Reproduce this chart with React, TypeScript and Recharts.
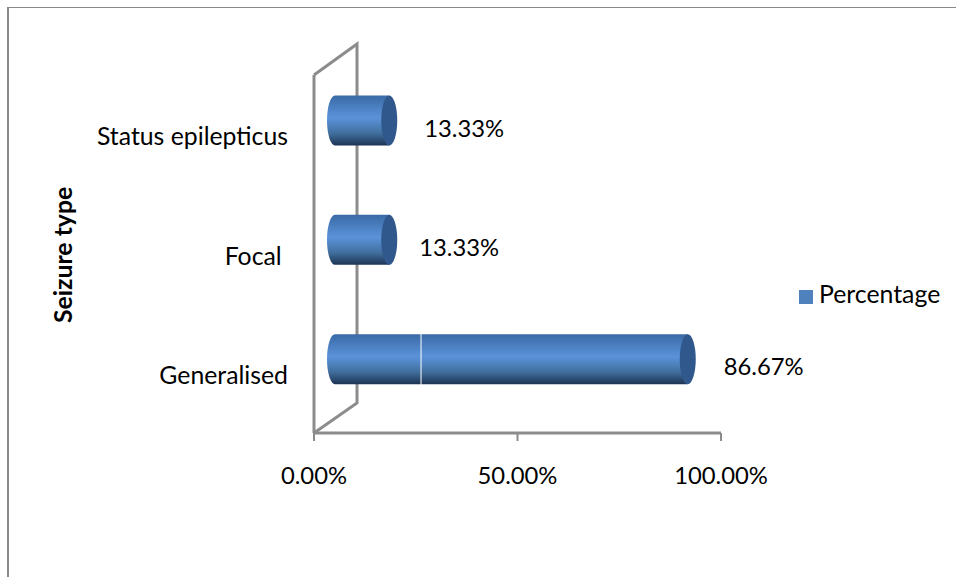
import React from "react";
import { BarChart, Bar, XAxis, YAxis, Legend, LabelList, ReferenceLine, usePlotArea } from "recharts";

// Seizure type distribution
const categories = ["Status epilepticus", "Focal ", "Generalised"];
const percentages = [13.33, 13.33, 86.67];
const axisTicks = [0, 50, 100];
const labelGaps = [56, 51, 57];
const seamAt = 26.3;

const rows = categories.map((name, i) => ({ name, Percentage: percentages[i] }));

const FONT = "Lato, 'Open Sans', sans-serif";
const TEXT_SIZE = 24.8;
const NUMBER_SIZE = 23.8;
const AXIS_GREY = "#8c8c8c";
const AXIS_WIDTH = 3;
// How far the 3D bars sit behind the front wall
const BAR_SHIFT_X = 21;
const BAR_SHIFT_Y = -14.5;
const WALL_DX = 43;
const WALL_DY = -30;
const CAP_RX = 8;
const LEGEND_WIDTH = 160;

const fmt = (v: number) => `${v.toFixed(2)}%`;

function Cylinder(props: any) {
  const { x, y, width, height } = props;
  const left = x + BAR_SHIFT_X;
  const right = left + width;
  const top = y + BAR_SHIFT_Y;
  const bottom = top + height;
  const ry = height / 2;
  return (
    <g>
      <path
        d={`M${left},${top} L${right},${top} L${right},${bottom} L${left},${bottom} A${CAP_RX},${ry} 0 0 1 ${left},${top} Z`}
        fill="url(#cylinderBody)"
      />
      <ellipse cx={right} cy={top + ry} rx={CAP_RX} ry={ry} fill="#30588c" />
    </g>
  );
}

// Side wall and floor edge of the 3D plot box
function Walls() {
  const area = usePlotArea();
  if (!area) return null;
  const { x, y, height } = area;
  const bottom = y + height;
  return (
    <polyline
      points={`${x},${bottom} ${x + WALL_DX},${bottom + WALL_DY} ${x + WALL_DX},${y + WALL_DY - 1} ${x},${y}`}
      fill="none"
      stroke={AXIS_GREY}
      strokeWidth={AXIS_WIDTH}
    />
  );
}

function ValueLabel(props: any) {
  const { x, y, width, height, value, index } = props;
  return (
    <text
      x={x + width + labelGaps[index]}
      y={y + height / 2 - 4.5}
      fontFamily={FONT}
      fontSize={NUMBER_SIZE}
      fill="#000"
      dominantBaseline="middle"
    >
      {fmt(value)}
    </text>
  );
}

function CategoryTick(props: any) {
  const { x, y, payload } = props;
  return (
    <text
      x={x}
      y={y + 4.5}
      textAnchor="end"
      dominantBaseline="middle"
      fontFamily={FONT}
      fontSize={TEXT_SIZE}
      fill="#000"
      xmlSpace="preserve"
      style={{ whiteSpace: "pre" }}
    >
      {payload.value}
    </text>
  );
}

export default function App() {
  return (
    <div
      style={{
        position: "absolute",
        left: 0,
        top: 0,
        width: 956,
        height: 577,
        overflow: "hidden",
        background: "#fff",
      }}
    >
      <div
        style={{
          position: "absolute",
          left: 7,
          top: 7,
          right: 0,
          bottom: 0,
          borderLeft: "2px solid #8a8a8a",
          borderTop: "1px solid #8a8a8a",
        }}
      />
      <BarChart
        layout="vertical"
        width={956}
        height={577}
        data={rows}
        margin={{ top: 75, right: 235 - LEGEND_WIDTH, bottom: 0, left: 0 }}
        barSize={50}
        style={{ position: "absolute", left: 0, top: 0 }}
      >
        <defs>
          <linearGradient id="cylinderBody" x1="0" y1="0" x2="0" y2="1">
            <stop offset="0" stopColor="#3a6aa6" />
            <stop offset="0.45" stopColor="#5b93da" />
            <stop offset="0.75" stopColor="#41709f" />
            <stop offset="1" stopColor="#1d3454" />
          </linearGradient>
        </defs>
        <XAxis
          type="number"
          domain={[0, 100]}
          ticks={axisTicks}
          tickFormatter={fmt}
          height={144}
          interval={0}
          tickSize={8}
          tickMargin={26}
          axisLine={{ stroke: AXIS_GREY, strokeWidth: AXIS_WIDTH }}
          tickLine={{ stroke: AXIS_GREY, strokeWidth: 2 }}
          tick={{ fontFamily: FONT, fontSize: NUMBER_SIZE, fill: "#000" }}
        />
        <YAxis
          type="category"
          dataKey="name"
          width={314}
          tickLine={false}
          tickMargin={20}
          axisLine={{ stroke: AXIS_GREY, strokeWidth: AXIS_WIDTH }}
          tick={<CategoryTick />}
          label={{
            value: "Seizure type",
            angle: -90,
            position: "insideLeft",
            dx: 58,
            dy: 69,
            style: { fontFamily: FONT, fontSize: TEXT_SIZE, fontWeight: 700, fill: "#000" },
          }}
        />
        <Walls />
        <Legend
          layout="vertical"
          align="right"
          verticalAlign="middle"
          iconType="square"
          iconSize={14}
          width={LEGEND_WIDTH}
          wrapperStyle={{ position: "absolute", left: 799, top: 279, width: LEGEND_WIDTH, fontFamily: FONT, fontSize: TEXT_SIZE }}
          formatter={(v: string) => <span style={{ color: "#000", marginLeft: 2 }}>{v}</span>}
        />
        <Bar dataKey="Percentage" fill="#4f81bd" shape={<Cylinder />} isAnimationActive={false}>
          <LabelList dataKey="Percentage" content={<ValueLabel />} />
        </Bar>
        <ReferenceLine x={seamAt} stroke="#fff" strokeWidth={1} />
      </BarChart>
    </div>
  );
}
